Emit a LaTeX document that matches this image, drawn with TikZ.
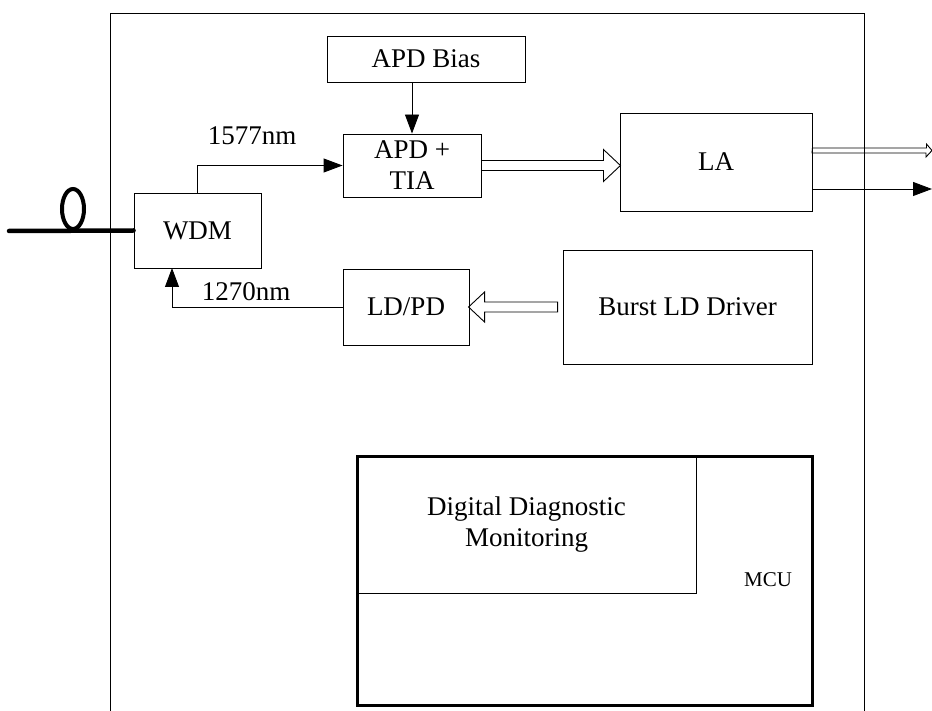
\documentclass[tikz,border=0pt]{standalone}
\usepackage{fontspec}
\setmainfont{Liberation Serif}
\usetikzlibrary{arrows.meta}

\tikzset{
  blk/.style={draw, line width=0.9pt, inner sep=0pt, align=center},
  arr/.style={-{Triangle[length=19pt,width=14pt]}},
}

\begin{document}
\begin{tikzpicture}[x=1pt, y=-1pt, line width=0.9pt, font=\fontsize{27pt}{31pt}\selectfont]
  \useasboundingbox (0,0) rectangle (932,711);
  % module outline, open at the bottom
  \draw (110,711) -- (110,13) -- (864,13) -- (864,711);
  % receive and transmit blocks
  \node[blk, minimum width=127pt, minimum height=75pt] (wdm) at (197.5,230.5) {WDM};
  \node[blk, minimum width=198pt, minimum height=46pt] (bias) at (426,59) {APD Bias};
  \node[blk, minimum width=138pt, minimum height=63pt] (tia) at (412,165.5) {APD +\\TIA};
  \node[blk, minimum width=192pt, minimum height=98pt] (la) at (716,162) {LA};
  \node[blk, minimum width=126pt, minimum height=76pt] (ldpd) at (406,307) {LD/PD};
  \node[blk, minimum width=249pt, minimum height=114pt] (burst) at (687.5,307) {Burst LD Driver};
  % monitoring
  \node[blk, line width=3pt, minimum width=455pt, minimum height=249pt] (mcu) at (584.5,580.5) {};
  \node[blk, minimum width=339pt, minimum height=137pt] (ddm) at (526.5,524.5) {Digital Diagnostic\\Monitoring};
  \node[font=\fontsize{21pt}{24pt}\selectfont] (mcutxt) at (768,580) {MCU};
  % fibre with its loop
  \coordinate (fibre) at (9,231);
  \draw[line width=4.5pt, line cap=round] (fibre) -- (wdm.west);
  \draw[line width=4pt] (73,209) ellipse [x radius=11pt, y radius=20pt];
  % wavelengths
  \draw[arr] (wdm.north) |- (tia.west);
  \node (nmdown) at (252,136) {1577nm};
  \coordinate (wdmin) at (172,268);
  \draw[arr] (ldpd.west) -| (wdmin);
  \node (nmup) at (246,292) {1270nm};
  \draw[arr] (tia.north |- bias.south) -- (tia.north);
  % wide signal arrows
  \draw (tia.east) ++(0,-5) -- ++(122,0) -- ++(0,-11) -- ++(17,16) -- ++(-17,16) -- ++(0,-11) -- ++(-122,0) -- cycle;
  \draw (burst.west) ++(-5,-5) -- ++(-73,0) -- ++(0,-10) -- ++(-16,15) -- ++(16,15) -- ++(0,-10) -- ++(73,0) -- cycle;
  % outputs of the LA
  \coordinate (outa) at (932,150.5);
  \coordinate (outb) at (932,189);
  \draw (la.east |- outa) ++(0,-2.5) -- ++(114,0) -- ++(0,-4) -- (outa) -- ++(-6,6.5) -- ++(0,-4) -- ++(-114,0) -- cycle;
  \draw[arr] (la.east |- outb) -- (outb);
\end{tikzpicture}
\end{document}
